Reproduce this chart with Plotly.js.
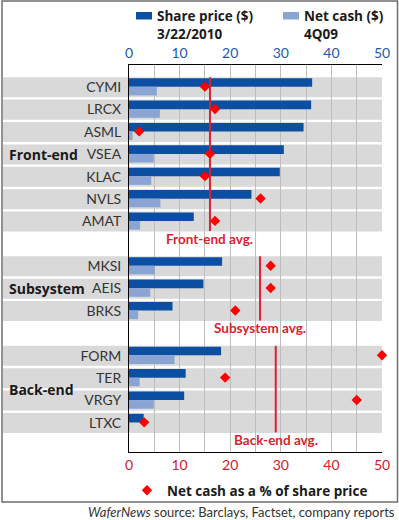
<!DOCTYPE html>
<html><head><meta charset="utf-8">
<script src="https://cdn.plot.ly/plotly-3.0.1.min.js"></script>
<style>html,body{margin:0;padding:0;background:#fff}</style>
</head><body><div id="chart" style="width:399px;height:520px"></div>
<script>
// ---- data ----
const groupNames = ['Front-end', 'Subsystem', 'Back-end'];
const frontEnd = ['CYMI', 'LRCX', 'ASML', 'VSEA', 'KLAC', 'NVLS', 'AMAT'];
const subsystem = ['MKSI', 'AEIS', 'BRKS'];
const backEnd = ['FORM', 'TER', 'VRGY', 'LTXC'];
const sharePrice = [36.2, 36.0, 34.5, 30.6, 29.8, 24.2, 12.8, 18.4, 14.7, 8.6, 18.2, 11.2, 10.9, 2.9];
const netCash = [5.5, 6.1, 0.7, 4.9, 4.4, 6.2, 2.2, 5.1, 4.2, 1.8, 9.0, 2.1, 4.9, 0.1];
const netCashPct = [15, 17, 2, 16, 15, 26, 17, 28, 28, 21, 50, 19, 45, 3];
const groupAvg = [16, 25.9, 29];
const avgLabels = ['Front-end avg.', 'Subsystem avg.', 'Back-end avg.'];
const seriesNames = ['Share price ($)', 'Net cash ($)'];
const seriesDates = ['3/22/2010', '4Q09'];
const pctName = 'Net cash as a % of share price';
const xTicks = [0, 10, 20, 30, 40, 50];

// ---- layout helpers (positions derived from row order) ----
const groupMembers = [frontEnd, subsystem, backEnd];
const companies = [], rowTop = [], groupRange = [];
let row = 0;
groupMembers.forEach(g => {
  const start = row;
  g.forEach(c => { companies.push(c); rowTop.push(row); row++; });
  groupRange.push([start, row - 1]);
  row++; // blank spacer row between groups
});

const FONT = 'Lato, "Open Sans", sans-serif';
const BOLDFONT = '"Open Sans", Lato, sans-serif';
const DARK = '#0b4ea2', LIGHT = '#8aa4d4', BAND = '#d9d9d9', GRID = '#bdbdbd';
const RED = '#d9232e';
const PLOT_L = 129, PLOT_R = 382, PLOT_T = 65, PLOT_B = 452;
const px2x = p => (p - PLOT_L) / (PLOT_R - PLOT_L);
const px2y = p => (PLOT_B - p) / (PLOT_B - PLOT_T);

const traces = [
  {
    type: 'bar', orientation: 'h', name: seriesNames[0],
    x: sharePrice, y: rowTop, width: 0.385, offset: 0.02,
    marker: {color: DARK}, xaxis: 'x', yaxis: 'y', showlegend: false, hoverinfo: 'x'
  },
  {
    type: 'bar', orientation: 'h', name: seriesNames[1],
    x: netCash, y: rowTop, width: 0.385, offset: 0.405,
    marker: {color: LIGHT}, xaxis: 'x', yaxis: 'y', showlegend: false, hoverinfo: 'x'
  }
];
groupAvg.forEach((a, i) => {
  traces.push({
    type: 'scatter', mode: 'lines', x: [a, a],
    y: [groupRange[i][0] - 0.02, groupRange[i][1] + 0.85],
    line: {color: RED, width: 2}, xaxis: 'x2', yaxis: 'y', showlegend: false, hoverinfo: 'skip'
  });
});
traces.push({
  type: 'scatter', mode: 'markers', name: '<b>' + pctName + '</b>',
  x: netCashPct, y: rowTop.map(r => r + 0.4),
  marker: {symbol: 'diamond', size: 8, color: '#ff0000'},
  xaxis: 'x2', yaxis: 'y', legend: 'legend2', cliponaxis: false
});

const shapes = [];
rowTop.forEach(r => {
  shapes.push({type: 'rect', layer: 'below', xref: 'paper', yref: 'y',
    x0: px2x(3), x1: 1, y0: r - 0.02, y1: r + 0.875, fillcolor: BAND, line: {width: 0}});
});
shapes.push({type: 'rect', xref: 'paper', yref: 'paper', layer: 'above',
  x0: px2x(2), x1: px2x(397.5), y0: px2y(1), y1: px2y(502),
  line: {color: '#6e6e6e', width: 1.5}, fillcolor: 'rgba(0,0,0,0)'});

const annotations = [];
// top legend (bar series): swatch + two-line label
const legendSwatchX = [136, 283];
[DARK, LIGHT].forEach((c, i) => {
  shapes.push({type: 'rect', xref: 'paper', yref: 'paper', layer: 'above',
    x0: px2x(legendSwatchX[i]), x1: px2x(legendSwatchX[i] + 16),
    y0: px2y(12), y1: px2y(19.5), fillcolor: c, line: {width: 0}});
  annotations.push({text: '<b>' + seriesNames[i] + '</b><br><b>' + seriesDates[i] + '</b>',
    xref: 'paper', yref: 'paper', x: px2x(legendSwatchX[i] + 19), y: px2y(5),
    xanchor: 'left', yanchor: 'top', align: 'left', showarrow: false,
    font: {family: BOLDFONT, size: 13.5, color: '#1a1a1a'}});
});

groupNames.forEach((g, i) => {
  annotations.push({text: '<b>' + g + '</b>', xref: 'paper', yref: 'y',
    x: px2x(7), y: (groupRange[i][0] + groupRange[i][1]) / 2 + 0.42,
    xanchor: 'left', yanchor: 'middle', showarrow: false,
    font: {family: BOLDFONT, size: 14, color: '#1a1a1a'}});
  annotations.push({text: '<b>' + avgLabels[i] + '</b>', xref: 'x2', yref: 'y',
    x: groupAvg[i], y: groupRange[i][1] + 1.2,
    xanchor: 'center', yanchor: 'middle', showarrow: false,
    font: {family: FONT, size: 13.5, color: RED}});
});
annotations.push({text: '<i>WaferNews</i> source: Barclays, Factset, company reports',
  xref: 'paper', yref: 'paper', x: px2x(397), y: px2y(512),
  xanchor: 'right', yanchor: 'middle', showarrow: false,
  font: {family: FONT, size: 13, color: '#333'}});

const layout = {
  width: 399, height: 520,
  margin: {l: PLOT_L, r: 399 - PLOT_R, t: PLOT_T, b: 520 - PLOT_B, pad: 0},
  paper_bgcolor: '#fff', plot_bgcolor: 'rgba(0,0,0,0)',
  barmode: 'overlay', showlegend: true,
  font: {family: FONT, color: '#222'},
  xaxis: {
    side: 'top', range: [0, 50], tickvals: xTicks, ticktext: xTicks.map(String),
    showgrid: true, gridcolor: GRID, gridwidth: 1,
    minor: {dtick: 5, tick0: 0, showgrid: true, gridcolor: GRID, gridwidth: 1},
    showline: true, linecolor: '#000', linewidth: 1, zeroline: false,
    ticks: '', tickfont: {family: FONT, size: 14, color: '#1e5aa8'}, fixedrange: true
  },
  xaxis2: {
    overlaying: 'x', side: 'bottom', range: [0, 50], tickvals: xTicks, ticktext: xTicks.map(String),
    showgrid: false, showline: true, linecolor: '#000', linewidth: 1, zeroline: false,
    ticks: '', tickfont: {family: FONT, size: 14, color: '#d42028'}, fixedrange: true
  },
  yaxis: {
    range: [16.725, -0.567], autorange: false,
    tickvals: rowTop.map(r => r + 0.42), ticktext: companies,
    showgrid: false, zeroline: false, showline: true, linecolor: '#000', linewidth: 1,
    ticks: '', ticklabelstandoff: 4, tickfont: {family: FONT, size: 14, color: '#333'}, fixedrange: true
  },
  legend2: {
    orientation: 'h', x: px2x(127), y: px2y(475), xanchor: 'left', yanchor: 'top',
    font: {family: BOLDFONT, size: 13.5, color: '#1a1a1a'}, bgcolor: 'rgba(0,0,0,0)'
  },
  shapes: shapes,
  annotations: annotations
};

Plotly.newPlot('chart', traces, layout, {displayModeBar: false, staticPlot: true});
</script></body></html>
